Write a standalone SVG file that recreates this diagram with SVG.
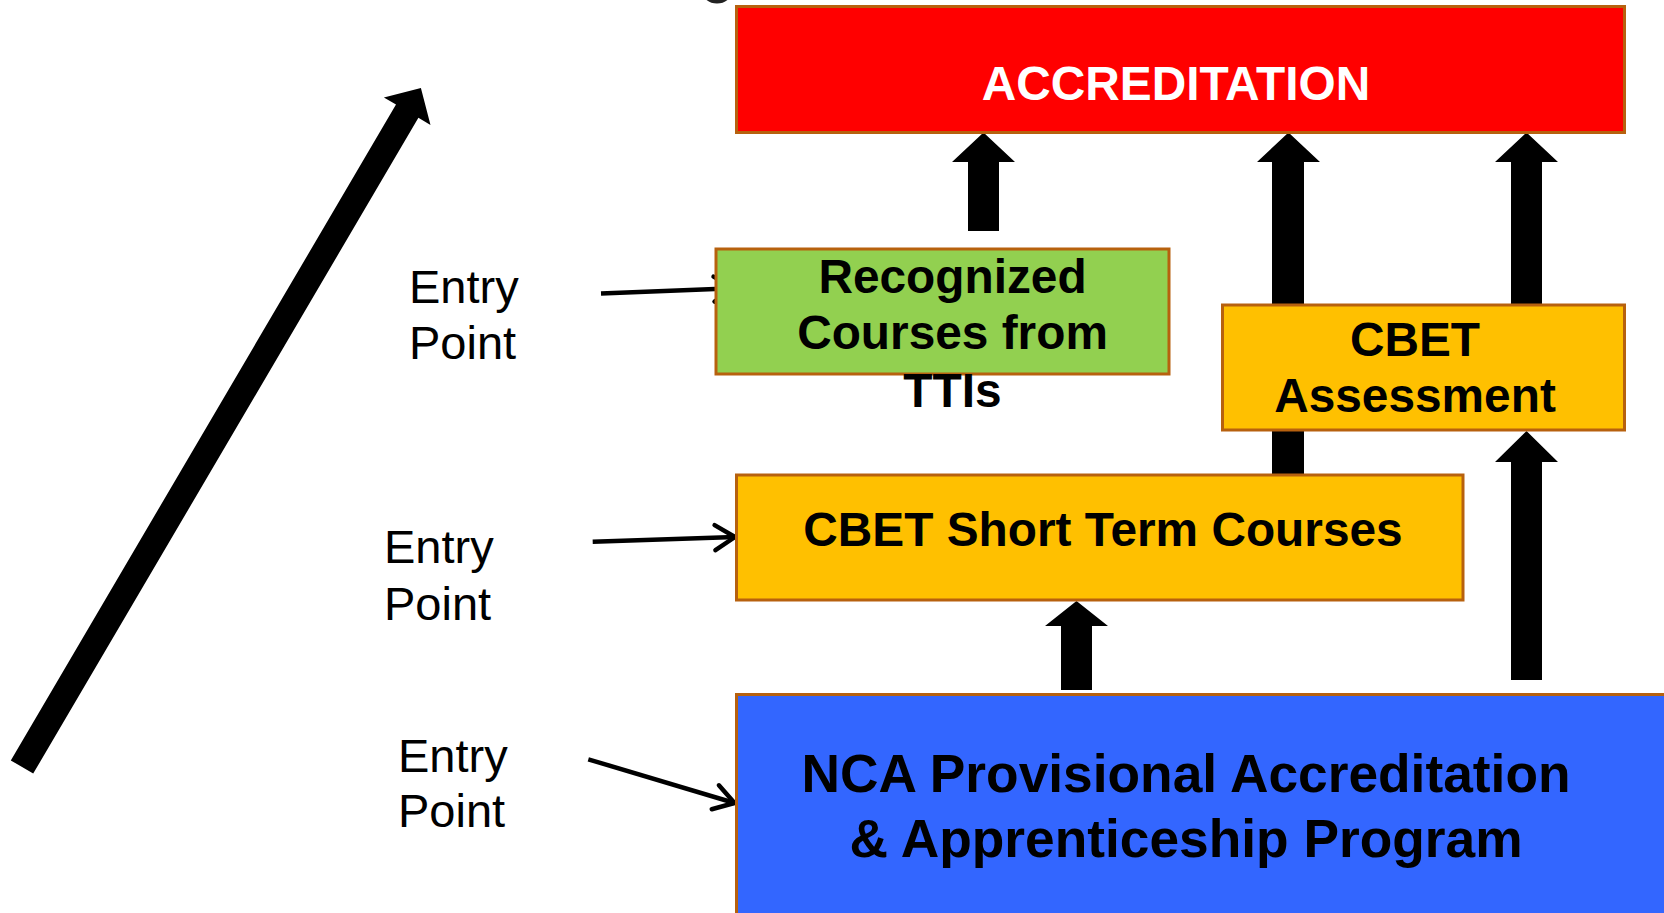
<svg xmlns="http://www.w3.org/2000/svg" width="1664" height="913" viewBox="0 0 1664 913">
<defs>
<style>
.box{stroke:#B7610E;stroke-width:3}
.bt{font-family:"Liberation Sans",Arial,sans-serif;font-weight:bold;font-size:47.8px;text-anchor:middle;fill:#000}
.big{font-size:53.3px}
.lbl{font-family:"Liberation Sans",Arial,sans-serif;font-size:47px;fill:#000}
.thin{fill:none;stroke:#000;stroke-width:4.5;stroke-linecap:butt}
.blk{fill:#000}
</style>
<marker id="chev" markerUnits="userSpaceOnUse" orient="auto" refX="0" refY="0" markerWidth="30" markerHeight="30" overflow="visible">
<path d="M-20,-12.5 L0,0 L-20,12.5" fill="none" stroke="#000" stroke-width="4.5" stroke-linecap="round" stroke-linejoin="round"/>
</marker>
</defs>
<rect width="1664" height="913" fill="#fff"/>
<ellipse cx="717" cy="-12" rx="14" ry="13" fill="none" stroke="#222" stroke-width="5"/>
<g id="connectors">
<polygon class="blk" points="10.8,760.4 396,104.6 383.9,97.5 420.9,87.9 430.5,124.9 418.4,117.8 33.2,773.6"/>
<path class="thin" d="M601,293.5 L734,288.3" marker-end="url(#chev)"/>
<path class="thin" d="M592.7,541.7 L735,537" marker-end="url(#chev)"/>
<path class="thin" d="M588.3,759.3 L734.5,803" marker-end="url(#chev)"/>
<polygon class="blk" points="968,231 968,162 952,162 983.5,132.6 1015,162 999,162 999,231"/>
<polygon class="blk" points="1272,476 1272,162 1257,162 1288.5,132.6 1320,162 1304,162 1304,476"/>
<polygon class="blk" points="1511,306 1511,162 1495,162 1526.5,132.6 1558,162 1542,162 1542,306"/>
<polygon class="blk" points="1511,680 1511,462 1495,462 1526.5,431 1558,462 1542,462 1542,680"/>
<polygon class="blk" points="1061,690 1061,626 1045,626 1076.5,601 1108,626 1092,626 1092,690"/>
</g>
<g id="accreditation">
<rect class="box" x="736.5" y="6.5" width="888" height="126" fill="#FF0000"/>
<text class="bt" x="1176" y="100" style="fill:#fff">ACCREDITATION</text>
</g>
<g id="recognized">
<rect class="box" x="716" y="249" width="453" height="125" fill="#92D050"/>
<text class="bt" x="952.5" y="293">Recognized</text>
<text class="bt" x="952.5" y="349">Courses from</text>
<text class="bt" x="952.5" y="407">TTIs</text>
</g>
<g id="assessment">
<rect class="box" x="1222.5" y="305" width="402" height="125" fill="#FFC000"/>
<text class="bt" x="1415" y="356">CBET</text>
<text class="bt" x="1415" y="412">Assessment</text>
</g>
<g id="shortterm">
<rect class="box" x="736.5" y="475" width="726.5" height="125" fill="#FFC000"/>
<text class="bt" x="1103" y="546">CBET Short Term Courses</text>
</g>
<g id="nca">
<rect class="box" x="736.5" y="694.5" width="940" height="230" fill="#3366FF"/>
<text class="bt big" x="1186" y="792">NCA Provisional Accreditation</text>
<text class="bt big" x="1186" y="857">&amp; Apprenticeship Program</text>
</g>
<g id="entry1">
<text class="lbl" x="409" y="303">Entry</text>
<text class="lbl" x="409" y="359">Point</text>
</g>
<g id="entry2">
<text class="lbl" x="384" y="563">Entry</text>
<text class="lbl" x="384" y="620">Point</text>
</g>
<g id="entry3">
<text class="lbl" x="398" y="772">Entry</text>
<text class="lbl" x="398" y="827">Point</text>
</g>
</svg>
